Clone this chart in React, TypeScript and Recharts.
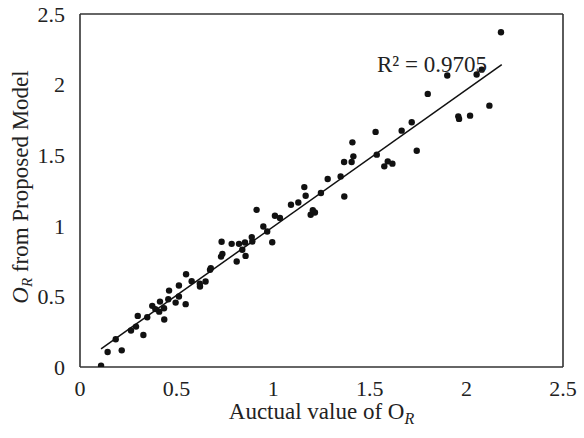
import React from 'react';
import {
  ScatterChart,
  Scatter,
  XAxis,
  YAxis,
  ReferenceLine,
  ReferenceDot,
} from 'recharts';

// Actual O_R values (x) and model-predicted O_R values (y)
const actualValues = [
  0.109, 0.143, 0.216, 0.185, 0.264, 0.328, 0.29, 0.299, 0.348, 0.374,
  0.41, 0.436, 0.414, 0.435, 0.461, 0.495, 0.512, 0.547, 0.549, 0.512,
  0.578, 0.621, 0.65, 0.673, 0.73, 0.733, 0.737, 0.785, 0.811, 0.823,
  0.857, 0.854, 0.84, 0.892, 0.914, 0.949, 0.969, 0.995, 1.009, 1.035,
  1.092, 1.13, 1.161, 1.168, 1.194, 1.216, 0.39, 0.889, 0.457, 0.62,
  0.677, 1.205, 1.247, 1.282, 1.349, 1.368, 1.367, 1.406, 1.41, 1.415,
  1.53, 1.536, 1.575, 1.593, 1.617, 1.665, 1.717, 1.743, 1.8, 1.901,
  1.958, 1.962, 2.019, 2.053, 2.079, 2.119, 2.179,
];
const predictedValues = [
  0.01, 0.106, 0.118, 0.196, 0.258, 0.227, 0.286, 0.362, 0.352, 0.433,
  0.392, 0.336, 0.463, 0.416, 0.541, 0.456, 0.577, 0.445, 0.657, 0.499,
  0.608, 0.57, 0.605, 0.688, 0.782, 0.887, 0.801, 0.872, 0.747, 0.872,
  0.787, 0.882, 0.83, 0.889, 1.113, 0.995, 0.96, 0.884, 1.071, 1.055,
  1.149, 1.165, 1.274, 1.213, 1.078, 1.094, 0.41, 0.92, 0.48, 0.59,
  0.70, 1.11, 1.232, 1.331, 1.35, 1.208, 1.452, 1.452, 1.591, 1.492,
  1.665, 1.504, 1.421, 1.456, 1.44, 1.674, 1.733, 1.532, 1.934, 2.064,
  1.775, 1.757, 1.78, 2.071, 2.106, 1.851, 2.371,
];

// Linear trend line endpoints
const trendX = [0.109, 2.183];
const trendY = [0.128, 2.142];

const axisTicks = [0, 0.5, 1, 1.5, 2, 2.5];
const r2Text = 'R² = 0.9705';
const r2Pos = { x: 1.822, y: 2.15 };

const points = actualValues.map((x, i) => ({ x, y: predictedValues[i] }));
const trend = trendX.map((x, i) => ({ x, y: trendY[i] }));

const FONT = "'Liberation Serif', 'Times New Roman', serif";
const TEXT = '#222';
const AXIS = '#333';

const Dot = (props: any) => (
  <circle cx={props.cx} cy={props.cy} r={3.2} fill="#111" />
);
const NoShape = () => <g />;

const XTick = (props: any) => (
  <text
    x={props.x}
    y={props.y}
    dy="0.71em"
    textAnchor="middle"
    style={{ fontFamily: FONT }}
    fontSize={22}
    fill={TEXT}
  >
    {props.payload.value}
  </text>
);

const YTick = (props: any) => (
  <text
    x={props.x}
    y={props.y}
    dy="0.355em"
    textAnchor="end"
    style={{ fontFamily: FONT }}
    fontSize={22}
    fill={TEXT}
  >
    {props.payload.value}
  </text>
);

const R2Label = (props: any) => {
  const vb = props.viewBox || {};
  const cx = vb.x + (vb.width || 0) / 2;
  const cy = vb.y + (vb.height || 0) / 2;
  return (
    <text
      x={cx}
      y={cy}
      dy="0.355em"
      textAnchor="middle"
      style={{ fontFamily: FONT }}
      fontSize={23}
      fill={TEXT}
    >
      {r2Text}
    </text>
  );
};

const XTitle = (props: any) => {
  const vb = props.viewBox || {};
  const cx = vb.x + vb.width / 2;
  return (
    <text
      x={cx}
      y={vb.y + 52}
      textAnchor="middle"
      style={{ fontFamily: FONT }}
      fontSize={23}
      fill={TEXT}
    >
      Auctual value of O
      <tspan fontStyle="italic" fontSize={16} dy={5}>
        R
      </tspan>
    </text>
  );
};

const YTitle = () => (
  <text
    transform="rotate(-90)"
    x={-187}
    y={28}
    textAnchor="middle"
    style={{ fontFamily: FONT }}
    fontSize={23}
    fill={TEXT}
  >
    <tspan fontStyle="italic">O</tspan>
    <tspan fontStyle="italic" fontSize={15} dy={4}>
      R
    </tspan>
    <tspan dy={-4}> from Proposed Model</tspan>
  </text>
);

export default function App() {
  return (
    <div
      style={{
        position: 'absolute',
        left: 0,
        top: 0,
        background: '#fff',
        fontFamily: FONT,
      }}
    >
      <ScatterChart
        width={584}
        height={438}
        margin={{ top: 14, right: 21, bottom: 0, left: 0 }}
      >
        <XAxis
          type="number"
          dataKey="x"
          domain={[0, 2.5]}
          ticks={axisTicks}
          tickLine={false}
          tickSize={0}
          tickMargin={13}
          height={71}
          axisLine={{ stroke: AXIS, strokeWidth: 1.6 }}
          tick={<XTick />}
          interval={0}
          allowDataOverflow
          label={<XTitle />}
        />
        <YAxis
          type="number"
          dataKey="y"
          domain={[0, 2.5]}
          ticks={axisTicks}
          tickLine={false}
          tickSize={0}
          tickMargin={15}
          width={80}
          axisLine={{ stroke: AXIS, strokeWidth: 1.6 }}
          tick={<YTick />}
          interval={0}
          allowDataOverflow
          label={<YTitle />}
        />
        <ReferenceLine y={2.5} stroke={AXIS} strokeWidth={1.6} />
        <ReferenceLine x={2.5} stroke={AXIS} strokeWidth={1.6} />
        <Scatter
          data={trend}
          line={{ stroke: '#111', strokeWidth: 1.5 }}
          lineType="joint"
          shape={NoShape}
          isAnimationActive={false}
          legendType="none"
        />
        <Scatter data={points} shape={Dot} isAnimationActive={false} />
        <ReferenceDot
          x={r2Pos.x}
          y={r2Pos.y}
          r={0}
          stroke="none"
          fill="none"
          label={<R2Label />}
        />
      </ScatterChart>
    </div>
  );
}
